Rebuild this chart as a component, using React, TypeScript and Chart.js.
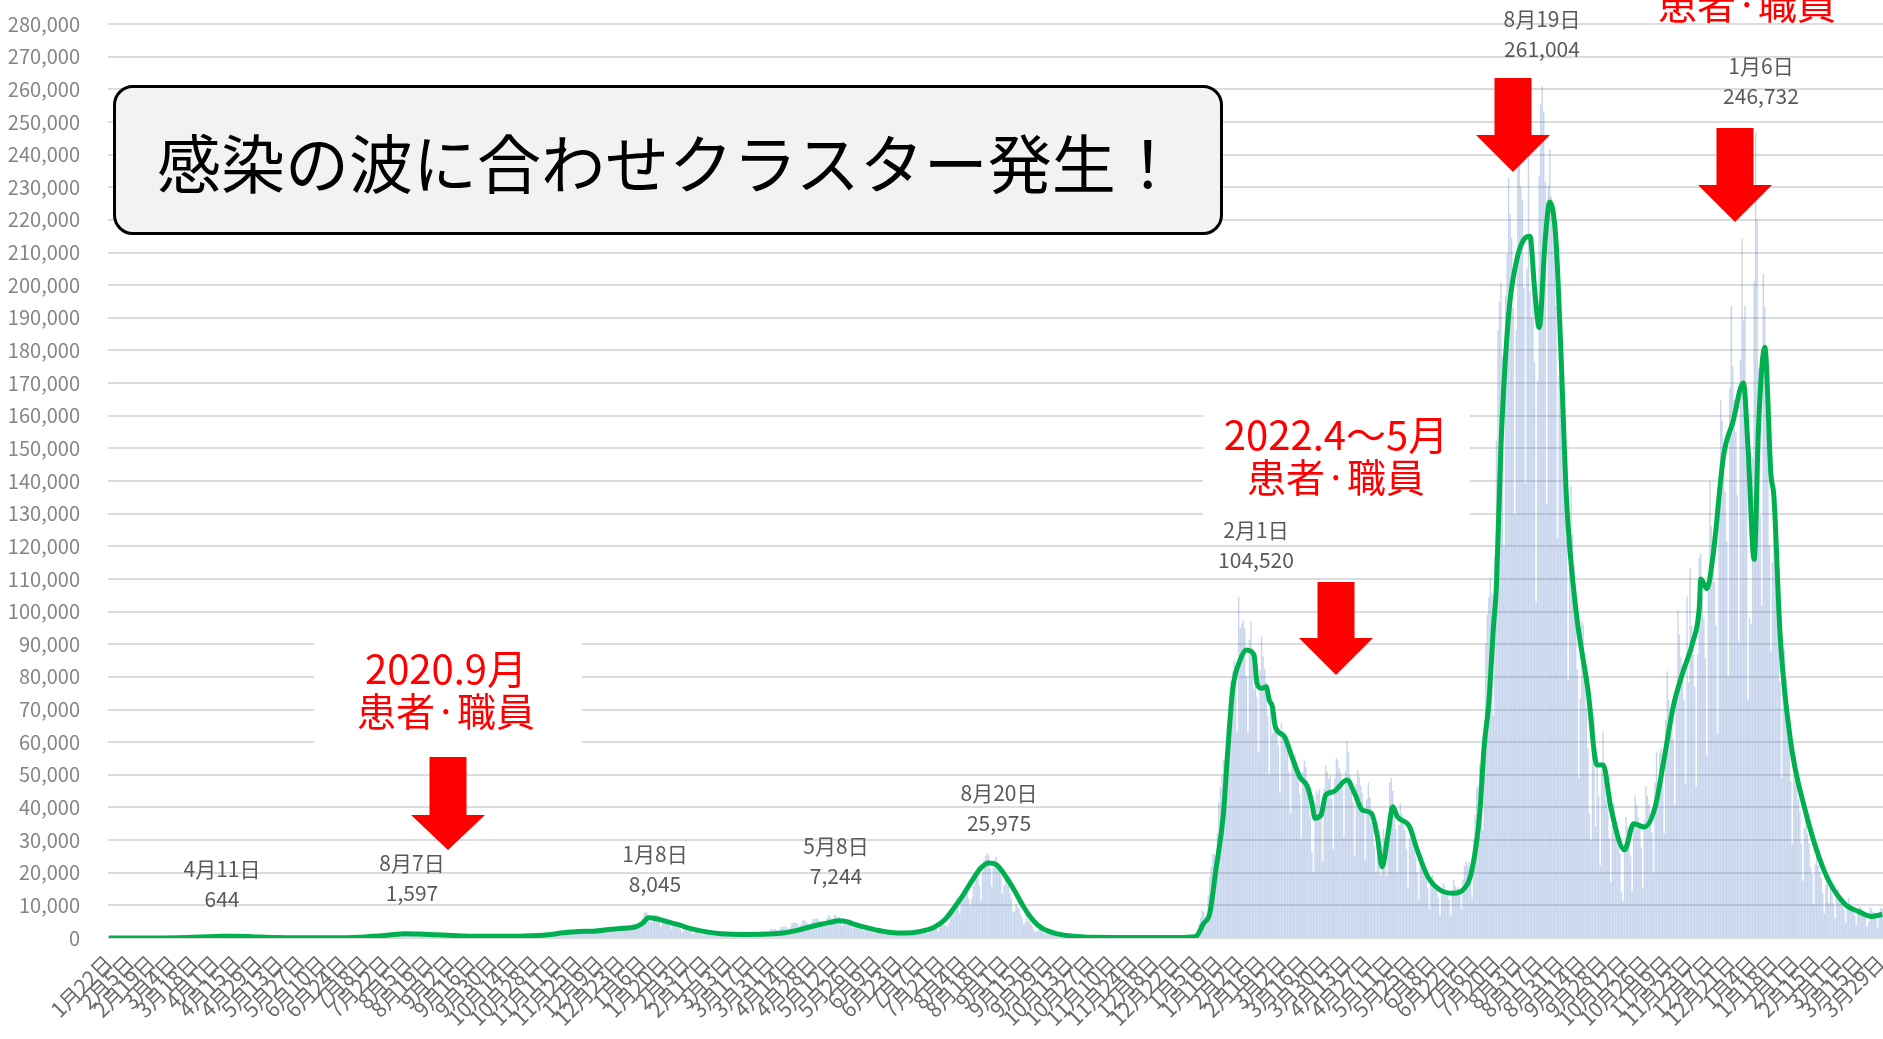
import React, { useEffect, useRef } from "react";
import { Chart, registerables } from "chart.js";

Chart.register(...registerables);

// ---------------- data ----------------
// first category = 2020-01-22, one category per day
const startYear = 2020;
const startMonthIndex = 0;
const startDay = 22;

// daily new cases, in thousands (rows: weeks Thu..Wed)
const dailyCasesThousands: number[] = [
  0.001,
  0.001, 0.001, 0.001, 0, 0.001, 0.002, 0.003,
  0.004, 0.003, 0.002, 0.001, 0.002, 0.001, 0.001,
  0.002, 0.001, 0.002, 0.001, 0.001, 0.002, 0.003,
  0.007, 0.009, 0.011, 0.012, 0.005, 0.008, 0.011,
  0.015, 0.014, 0.019, 0.012, 0.011, 0.009, 0.018,
  0.021, 0.019, 0.012, 0.009, 0.015, 0.018, 0.033,
  0.03, 0.059, 0.047, 0.034, 0.026, 0.032, 0.054,
  0.052, 0.041, 0.062, 0.032, 0.015, 0.039, 0.044,
  0.039, 0.05, 0.052, 0.039, 0.04, 0.071, 0.093,
  0.098, 0.123, 0.2, 0.173, 0.087, 0.225, 0.266,
  0.235, 0.351, 0.318, 0.377, 0.252, 0.351, 0.515,
  0.576, 0.579, 0.644, 0.56, 0.39, 0.457, 0.547,
  0.582, 0.576, 0.584, 0.568, 0.372, 0.376, 0.45,
  0.436, 0.445, 0.297, 0.201, 0.174, 0.288, 0.222,
  0.165, 0.264, 0.204, 0.123, 0.087, 0.059, 0.1,
  0.108, 0.082, 0.128, 0.069, 0.058, 0.055, 0.083,
  0.099, 0.057, 0.047, 0.025, 0.03, 0.014, 0.032,
  0.032, 0.028, 0.032, 0.014, 0.021, 0.043, 0.038,
  0.067, 0.054, 0.042, 0.031, 0.037, 0.033, 0.041,
  0.046, 0.044, 0.038, 0.035, 0.017, 0.037, 0.041,
  0.05, 0.047, 0.066, 0.074, 0.048, 0.072, 0.041,
  0.07, 0.068, 0.057, 0.034, 0.049, 0.053, 0.096,
  0.105, 0.098, 0.104, 0.131, 0.086, 0.117, 0.127,
  0.193, 0.25, 0.274, 0.206, 0.102, 0.206, 0.198,
  0.355, 0.43, 0.385, 0.395, 0.259, 0.334, 0.456,
  0.622, 0.595, 0.66, 0.51, 0.42, 0.631, 0.796,
  0.981, 0.768, 0.841, 0.736, 0.597, 0.985, 1.264,
  1.301, 1.579, 1.536, 1.33, 0.959, 1.238, 1.36,
  1.485, 1.597, 1.444, 1.357, 0.809, 0.698, 0.967,
  1.176, 1.022, 1.191, 0.984, 0.618, 0.898, 1.077,
  1.029, 0.99, 0.853, 0.784, 0.521, 0.612, 0.847,
  0.864, 0.816, 0.622, 0.58, 0.435, 0.59, 0.601,
  0.625, 0.575, 0.509, 0.481, 0.309, 0.455, 0.522,
  0.577, 0.652, 0.584, 0.432, 0.267, 0.398, 0.539,
  0.597, 0.598, 0.564, 0.478, 0.289, 0.278, 0.277,
  0.478, 0.558, 0.638, 0.473, 0.372, 0.458, 0.537,
  0.651, 0.564, 0.598, 0.447, 0.374, 0.492, 0.558,
  0.601, 0.625, 0.597, 0.512, 0.346, 0.443, 0.576,
  0.707, 0.639, 0.586, 0.431, 0.334, 0.414, 0.634,
  0.621, 0.738, 0.717, 0.564, 0.484, 0.572, 0.719,
  0.824, 0.783, 0.893, 0.706, 0.535, 0.605, 0.858,
  1.052, 1.139, 1.299, 1.167, 0.928, 1.258, 1.543,
  1.657, 1.72, 1.735, 1.438, 0.95, 1.697, 2.201,
  2.386, 2.424, 2.508, 2.166, 1.522, 1.228, 1.939,
  2.504, 2.53, 2.684, 2.065, 1.429, 2.031, 2.433,
  2.515, 2.435, 2.521, 2.024, 1.327, 2.13, 2.8,
  2.972, 2.993, 3.041, 2.377, 1.68, 2.988, 3.211,
  2.988, 2.956, 2.785, 2.488, 1.807, 2.883, 3.271,
  3.75, 3.839, 3.93, 3.09, 2.453, 3.6, 3.852,
  4.515, 3.249, 3.045, 3.123, 3.314, 4.895, 6.004,
  7.571, 8.045, 7.778, 6.061, 4.879, 4.917, 5.876,
  6.592, 7.019, 5.76, 4.924, 3.325, 4.924, 5.533,
  5.67, 5.029, 4.717, 3.99, 2.764, 3.847, 3.962,
  3.526, 3.34, 3.343, 2.673, 1.79, 2.327, 2.631,
  2.576, 2.281, 2.271, 1.896, 1.216, 1.569, 1.887,
  1.739, 1.527, 1.358, 1.228, 0.867, 1.293, 1.526,
  1.363, 1.233, 1.176, 1.068, 0.746, 0.946, 1.071,
  1.06, 1.083, 1.066, 0.922, 0.639, 0.895, 1.206,
  1.18, 1.147, 1.065, 0.983, 0.598, 0.96, 1.235,
  1.301, 1.256, 1.321, 1.061, 0.75, 1.004, 1.498,
  1.525, 1.472, 1.439, 1.114, 0.814, 1.518, 1.919,
  1.994, 2.021, 2.081, 1.785, 1.108, 2.042, 2.836,
  2.59, 2.757, 2.774, 2.46, 1.557, 2.677, 3.447,
  3.443, 3.451, 3.689, 2.98, 1.862, 3.454, 4.571,
  4.568, 4.786, 4.751, 4.158, 2.749, 4.313, 5.282,
  5.5, 5.12, 4.605, 4.064, 3.309, 4.984, 5.793,
  5.873, 5.901, 5.937, 5.256, 4.383, 4.035, 4.167,
  4.353, 6.054, 7.244, 6.472, 4.907, 5.944, 7.056,
  6.875, 6.26, 6.399, 5.232, 3.677, 5.235, 5.709,
  5.325, 5.104, 4.598, 3.837, 2.874, 4.207, 4.503,
  4.161, 3.71, 3.531, 2.894, 1.969, 2.932, 3.077,
  2.841, 2.644, 2.552, 2.112, 1.304, 2.191, 2.303,
  2.093, 1.943, 1.901, 1.384, 0.936, 1.415, 1.738,
  1.65, 1.574, 1.498, 1.306, 0.875, 1.417, 1.752,
  1.669, 1.68, 1.667, 1.328, 1.01, 1.659, 1.847,
  1.825, 1.825, 2.002, 1.692, 1.188, 2.149, 2.502,
  2.254, 2.33, 2.427, 1.966, 1.362, 2.385, 3.191,
  3.426, 3.464, 3.616, 2.955, 2.001, 3.758, 5.398,
  4.221, 3.863, 3.871, 3.475, 4.692, 7.629, 9.576,
  10.687, 10.743, 12.341, 10.168, 7.563, 12.048, 14.216,
  15.263, 15.753, 14.473, 12.065, 9.984, 12.076, 15.812,
  18.889, 20.366, 19.804, 16.061, 11.469, 19.968, 23.913,
  25.146, 25.975, 25.492, 21.392, 15.733, 21.569, 24.316,
  24.935, 22.744, 21.809, 19.294, 13.637, 16.072, 20.032,
  16.762, 16.108, 13.841, 12.171, 7.81, 8.223, 10.38,
  9.403, 9.105, 7.22, 6.088, 4.169, 4.743, 6.81,
  5.114, 5.094, 4.111, 3.392, 2.223, 1.759, 2.216,
  3.44, 2.664, 2.134, 1.607, 1.131, 1.998, 2.113,
  1.58, 1.443, 1.234, 0.908, 0.616, 0.859, 1.128,
  0.91, 0.793, 0.618, 0.501, 0.367, 0.586, 0.707,
  0.623, 0.608, 0.504, 0.429, 0.25, 0.378, 0.388,
  0.349, 0.325, 0.293, 0.263, 0.153, 0.232, 0.324,
  0.277, 0.279, 0.233, 0.193, 0.108, 0.229, 0.176,
  0.222, 0.202, 0.218, 0.163, 0.086, 0.181, 0.195,
  0.209, 0.166, 0.163, 0.159, 0.083, 0.125, 0.169,
  0.172, 0.148, 0.163, 0.127, 0.098, 0.078, 0.085,
  0.115, 0.129, 0.106, 0.105, 0.064, 0.124, 0.143,
  0.123, 0.114, 0.135, 0.133, 0.064, 0.125, 0.142,
  0.128, 0.151, 0.137, 0.107, 0.084, 0.145, 0.161,
  0.176, 0.165, 0.147, 0.201, 0.124, 0.188, 0.251,
  0.252, 0.288, 0.287, 0.219, 0.166, 0.367, 0.389,
  0.501, 0.467, 0.554, 0.533, 0.782, 1.264, 2.638,
  4.475, 6.208, 8.474, 8.001, 6.433, 6.383, 13.256,
  18.86, 21.97, 25.789, 25.668, 22.004, 32.158, 41.479,
  46.221, 49.848, 54.558, 54.554, 44.008, 62.613, 71.627,
  78.9, 81.8, 84.9, 78.3, 63.1, 104.52, 94.9,
  96.2, 97.3, 94.7, 80.1, 62.8, 91.4, 97.1,
  88.4, 76.2, 87.3, 73.9, 56.8, 82.1, 92.4,
  86.2, 82.5, 78.4, 68.1, 50.2, 70.3, 62.6,
  71.9, 69.2, 64.3, 59.1, 44.9, 65.8, 63.4,
  62.3, 59.8, 58.1, 51.0, 38.2, 57.6, 55.6,
  56.3, 54.2, 52.3, 44.1, 30.4, 50.8, 54.4,
  52.6, 48.4, 44.1, 37.2, 26.3, 20.3, 41.0,
  45.1, 44.3, 45.6, 39.1, 23.4, 45.7, 52.9,
  51.0, 48.7, 49.8, 42.7, 27.2, 48.9, 55.2,
  54.4, 51.9, 50.6, 46.9, 30.7, 51.1, 60.1,
  56.8, 50.0, 48.5, 41.6, 25.3, 47.1, 51.6,
  49.4, 46.7, 44.5, 38.7, 23.8, 42.6, 47.6,
  43.2, 35.3, 34.1, 28.1, 20.4, 29.4, 22.9,
  19.2, 28.4, 33.4, 30.6, 18.9, 36.9, 47.8,
  49.1, 45.0, 41.2, 33.4, 19.9, 34.6, 41.2,
  38.0, 35.5, 33.0, 27.3, 15.6, 30.4, 34.4,
  29.6, 27.1, 24.8, 20.2, 11.7, 23.7, 24.5,
  21.8, 20.0, 19.0, 15.2, 8.8, 17.5, 19.3,
  17.4, 15.8, 15.0, 12.4, 7.0, 14.5, 16.7,
  16.1, 14.6, 14.5, 11.8, 6.8, 14.7, 17.8,
  15.9, 15.1, 15.6, 12.9, 8.8, 17.9, 22.1,
  23.4, 22.1, 23.2, 19.5, 12.4, 30.0, 37.8,
  45.8, 46.9, 53.1, 52.0, 33.0, 63.2, 90.3,
  99.1, 104.4, 110.6, 105.5, 68.1, 117.1, 152.4,
  186.2, 195.1, 200.9, 178.3, 120.0, 196.9, 209.4,
  233.0, 221.7, 214.6, 193.1, 129.8, 186.2, 248.3,
  248.6, 230.3, 226.1, 199.3, 139.2, 205.1, 248.4,
  198.2, 190.0, 198.0, 176.3, 103.1, 170.8, 233.4,
  255.5, 261.004, 253.3, 231.5, 133.1, 230.4, 241.7,
  227.2, 220.7, 215.5, 193.6, 122.5, 172.1, 189.0,
  160.3, 153.6, 143.1, 121.9, 79.1, 125.3, 138.5,
  123.5, 114.0, 99.3, 82.4, 49.1, 73.3, 97.0,
  96.0, 84.7, 70.5, 58.1, 38.1, 30.1, 70.3,
  68.0, 34.1, 53.3, 43.3, 22.3, 51.6, 63.2,
  49.8, 42.1, 39.5, 30.6, 17.1, 34.5, 41.4,
  36.2, 32.5, 29.9, 26.0, 14.0, 11.4, 28.9,
  37.1, 34.1, 32.3, 25.0, 14.3, 34.1, 43.6,
  40.9, 37.0, 34.1, 27.7, 15.2, 36.0, 46.5,
  43.5, 41.1, 38.0, 32.3, 19.9, 47.6, 57.1,
  46.1, 56.8, 58.1, 49.9, 32.0, 66.8, 81.7,
  72.9, 68.6, 67.9, 61.0, 40.8, 73.3, 100.4,
  93.0, 86.1, 83.7, 73.1, 47.4, 104.6, 78.3,
  113.2, 95.6, 87.0, 77.0, 46.4, 86.9, 116.5,
  117.7, 104.9, 98.2, 85.7, 56.0, 110.2, 140.1,
  126.1, 116.4, 109.1, 95.7, 62.6, 131.0, 165.0,
  158.5, 144.9, 136.8, 121.6, 80.3, 168.4, 193.6,
  175.0, 164.9, 155.0, 135.7, 90.9, 177.1, 214.2,
  189.2, 193.7, 146.5, 73.1, 98.1, 96.3, 147.2,
  201.3, 246.732, 219.9, 174.7, 129.5, 101.7, 203.6,
  193.3, 180.5, 165.4, 120.3, 87.9, 115.2, 134.3,
  121.8, 107.2, 99.9, 78.4, 49.2, 79.6, 88.3,
  79.4, 71.0, 63.9, 48.1, 28.9, 49.7, 55.7,
  48.0, 42.5, 38.8, 28.8, 17.5, 33.6, 36.7,
  32.1, 29.0, 21.8, 19.5, 10.5, 22.6, 27.1,
  22.3, 20.2, 18.5, 13.9, 7.5, 16.3, 19.2,
  10.7, 16.4, 14.0, 10.6, 5.9, 13.2, 15.0,
  13.1, 11.8, 10.8, 8.5, 4.6, 10.5, 12.2,
  10.6, 9.5, 8.9, 6.9, 3.9, 8.2, 9.6,
  9.4, 8.6, 8.2, 6.3, 3.5, 4.9, 9.5,
  9.0, 8.0, 7.6, 5.9, 3.2, 7.7, 9.3,
  8.9,
];

// smoothed (moving average) line, read at these day indices, in thousands
const avgDayIndex: number[] = [
  0, 20, 45, 60, 75, 84, 94, 109, 124, 139, 154, 164, 174, 184, 194, 204, 214, 229, 243, 258,
  273, 288, 298, 308, 318, 328, 338, 346, 350, 354, 360, 366, 374, 383, 393, 402, 417, 432, 442, 452,
  459, 467, 473, 479, 484, 489, 497, 505, 513, 522, 532, 542, 549, 554, 560, 566, 572, 577, 582, 588,
  594, 600, 606, 612, 620, 631, 646, 666, 686, 701, 710, 713, 718, 722, 726, 731, 734, 737, 742, 746,
  751, 753, 756, 759, 761, 763, 765, 771, 775, 781, 786, 789, 791, 795, 798, 803, 812, 817, 822, 828,
  832, 835, 839, 842, 845, 853, 858, 865, 873, 882, 888, 894, 899, 902, 905, 908, 910, 913, 918, 923,
  928, 932, 935, 938, 942, 945, 949, 952, 956, 962, 970, 976, 980, 985, 994, 1000, 1007, 1014, 1020, 1026,
  1032, 1039, 1043, 1044, 1048, 1052, 1059, 1065, 1072, 1075, 1079, 1082, 1086, 1090, 1092, 1096, 1103, 1112, 1125, 1138,
  1148, 1156, 1163,
];
const avgThousands: number[] = [
  0.02, 0.02, 0.1, 0.3, 0.5, 0.55, 0.4, 0.15, 0.05, 0.05, 0.1, 0.2, 0.5, 0.9, 1.3, 1.2, 1.0, 0.7, 0.5, 0.5,
  0.6, 1.0, 1.6, 2.0, 2.1, 2.6, 3.0, 3.5, 4.5, 6.2, 5.8, 5.0, 4.0, 2.7, 1.8, 1.3, 1.1, 1.2, 1.5, 2.4,
  3.3, 4.2, 4.8, 5.3, 5.0, 4.2, 3.2, 2.3, 1.7, 1.5, 2.0, 3.5, 6.0, 9, 13, 17.5, 21.5, 23, 22.5, 19,
  14.5, 9.5, 5.5, 3.0, 1.5, 0.6, 0.2, 0.15, 0.12, 0.15, 0.3, 0.5, 4.5, 7.6, 20.8, 38.2, 58.6, 76, 85.2, 88.2,
  86.7, 78, 76.5, 77, 72.9, 70.9, 64.7, 61.7, 56.6, 49.4, 46.4, 41.3, 36.7, 37.7, 43.8, 44.8, 48.4, 44.3, 39.2, 38.2,
  31, 21.8, 32.1, 40.2, 37.2, 34.1, 27, 18.8, 14.7, 13.7, 14.7, 21, 38, 59, 72, 95, 108, 151, 191, 207,
  214, 215, 199, 187, 214, 225.5, 214, 183, 134, 101, 76, 53, 53, 40, 27, 35, 34, 40, 55, 71,
  81, 91, 101, 110, 107, 117, 148, 158, 170, 150, 116, 158, 181, 142, 135, 93, 60, 40, 20.5, 10.6,
  8, 6.6, 7.2,
];

const yMax = 280000;
const yStep = 10000;
const xLabelEveryDays = 14;

// annotation texts
const titleText = "感染の波に合わせクラスター発生！";
const peakDateTexts = ["4月11日", "8月7日", "1月8日", "5月8日", "8月20日", "2月1日", "8月19日", "1月6日"];
const peakValueTexts = ["644", "1,597", "8,045", "7,244", "25,975", "104,520", "261,004", "246,732"];
const clusterPeriodTexts = ["2020.9月", "2022.4～5月", ""];
const clusterWhoText = "患者·職員";

// ---------------- layout / style (pixels) ----------------
const W = 1883;
const H = 1039;
const JP = '"Noto Sans CJK JP", "Noto Sans", sans-serif';

const peakNotePos = [
  [222, 868], [412, 862], [655, 853], [836, 845], [999, 792], [1256, 529], [1542, 18], [1761, 65],
];
const clusterNotePos = [
  [446, 667], [1336, 433], [1747, -40],
];
const whiteBoxes = [
  { x: 314, y: 622, w: 268, h: 138 },
  { x: 1203, y: 395, w: 267, h: 135 },
];
const arrows = [
  { cx: 448, top: 757, headY: 815, tip: 850 },
  { cx: 1336, top: 582, headY: 638, tip: 675 },
  { cx: 1513, top: 78, headY: 135, tip: 172 },
  { cx: 1735, top: 128, headY: 185, tip: 222 },
];

const overlayPlugin = {
  id: "overlayShapes",
  beforeDatasetsDraw(chart: any) {
    const ctx = chart.ctx;
    ctx.save();
    ctx.fillStyle = "#ffffff";
    whiteBoxes.forEach((b) => ctx.fillRect(b.x, b.y, b.w, b.h));
    ctx.restore();
  },
  afterDraw(chart: any) {
    const ctx = chart.ctx;
    ctx.save();
    ctx.fillStyle = "#ff0000";
    arrows.forEach((a) => {
      const sh = 18.5;
      const hh = 37;
      ctx.beginPath();
      ctx.moveTo(a.cx - sh, a.top);
      ctx.lineTo(a.cx + sh, a.top);
      ctx.lineTo(a.cx + sh, a.headY);
      ctx.lineTo(a.cx + hh, a.headY);
      ctx.lineTo(a.cx, a.tip);
      ctx.lineTo(a.cx - hh, a.headY);
      ctx.lineTo(a.cx - sh, a.headY);
      ctx.closePath();
      ctx.fill();
    });
    ctx.restore();
  },
};

export default function App() {
  const canvasRef = useRef<HTMLCanvasElement | null>(null);

  useEffect(() => {
    const canvas = canvasRef.current;
    if (!canvas) return;

    const dayLabels = dailyCasesThousands.map((_, i) => {
      const d = new Date(Date.UTC(startYear, startMonthIndex, startDay + i));
      return `${d.getUTCMonth() + 1}月${d.getUTCDate()}日`;
    });
    const barData = dailyCasesThousands.map((v) => v * 1000);
    const lineData: (number | null)[] = dailyCasesThousands.map(() => null);
    avgDayIndex.forEach((d, k) => {
      lineData[d] = avgThousands[k] * 1000;
    });

    const chart = new Chart(canvas, {
      type: "bar",
      data: {
        labels: dayLabels,
        datasets: [
          {
            type: "line",
            data: lineData,
            borderColor: "#00b050",
            borderWidth: 5,
            pointRadius: 0,
            spanGaps: true,
            cubicInterpolationMode: "monotone",
            order: 0,
          } as any,
          {
            type: "bar",
            data: barData,
            backgroundColor: "rgba(84,126,200,0.33)",
            borderWidth: 0,
            barPercentage: 0.9,
            categoryPercentage: 1,
            order: 1,
          } as any,
        ],
      },
      options: {
        animation: false,
        responsive: false,
        devicePixelRatio: 1,
        layout: { autoPadding: false, padding: { top: 24, left: 0, right: 0, bottom: 0 } },
        plugins: { legend: { display: false }, tooltip: { enabled: false } },
        scales: {
          x: {
            grid: { display: false, drawTicks: false },
            border: { display: false },
            ticks: {
              autoSkip: false,
              minRotation: 45,
              maxRotation: 45,
              color: "#6a6a6a",
              padding: 12,
              font: { size: 21, family: JP },
              callback: (_v: any, i: number) => (i % xLabelEveryDays === 0 ? dayLabels[i] : ""),
            },
            afterFit: (s: any) => {
              s.height = 101;
              s.paddingLeft = 0;
              s.paddingRight = 0;
              s.paddingTop = 0;
              s.paddingBottom = 0;
            },
          },
          y: {
            min: 0,
            max: yMax,
            grid: { color: "#dcdcdc", lineWidth: 2, drawTicks: false },
            border: { display: false },
            ticks: {
              stepSize: yStep,
              color: "#858585",
              padding: 28,
              font: { size: 20, family: JP },
              callback: (v: any) => Number(v).toLocaleString("en-US"),
            },
            afterFit: (s: any) => {
              s.width = 108;
              s.paddingTop = 0;
              s.paddingBottom = 0;
            },
          },
        },
      } as any,
      plugins: [overlayPlugin],
    });
    return () => chart.destroy();
  }, []);

  const center = (x: number, y: number): React.CSSProperties => ({
    position: "absolute",
    left: x,
    top: y,
    transform: "translate(-50%, -50%)",
    whiteSpace: "nowrap",
    lineHeight: 1,
  });

  return (
    <div style={{ position: "fixed", left: 0, top: 0, width: W, height: H, background: "#fff", overflow: "hidden" }}>
      <canvas ref={canvasRef} width={W} height={H} style={{ position: "absolute", left: 0, top: 0, width: W, height: H }} />
      <div
        style={{
          position: "absolute",
          left: 113,
          top: 85,
          width: 1110,
          height: 150,
          boxSizing: "border-box",
          border: "3px solid #000",
          borderRadius: 20,
          background: "#f2f2f2",
          display: "flex",
          alignItems: "center",
          paddingLeft: 41,
          fontFamily: JP,
          fontSize: 64,
          color: "#000",
          whiteSpace: "nowrap",
        }}
      >
        {titleText}
      </div>
      {peakDateTexts.map((t, i) => (
        <React.Fragment key={"p" + i}>
          <div style={{ ...center(peakNotePos[i][0], peakNotePos[i][1]), fontFamily: JP, fontSize: 21, color: "#595959" }}>{t}</div>
          <div style={{ ...center(peakNotePos[i][0], peakNotePos[i][1] + 30), fontFamily: JP, fontSize: 21, color: "#595959" }}>
            {peakValueTexts[i]}
          </div>
        </React.Fragment>
      ))}
      {clusterPeriodTexts.map((t, i) => (
        <React.Fragment key={"c" + i}>
          {t ? (
            <div style={{ ...center(clusterNotePos[i][0], clusterNotePos[i][1]), fontFamily: JP, fontSize: 40, color: "#ff0000" }}>{t}</div>
          ) : null}
          <div style={{ ...center(clusterNotePos[i][0], clusterNotePos[i][1] + 42), fontFamily: JP, fontSize: 39, color: "#ff0000" }}>
            {clusterWhoText}
          </div>
        </React.Fragment>
      ))}
    </div>
  );
}
